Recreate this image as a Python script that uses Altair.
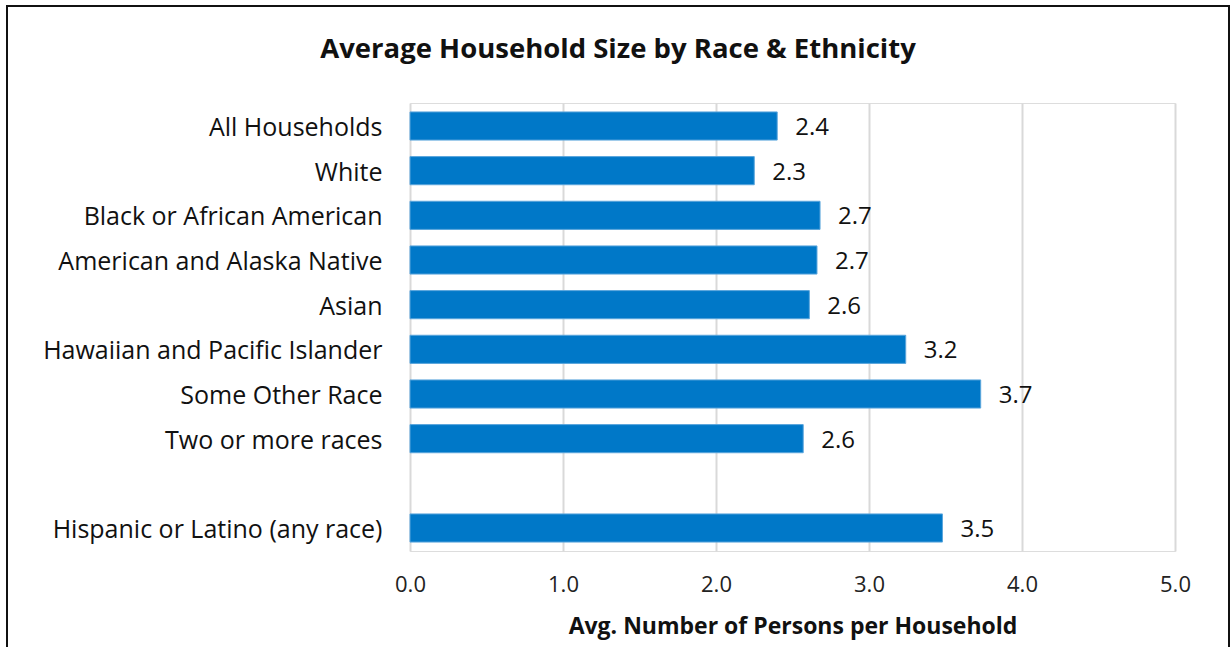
import altair as alt
import pandas as pd

categories = [
    "All Households",
    "White",
    "Black or African American",
    "American and Alaska Native",
    "Asian",
    "Hawaiian and Pacific Islander",
    "Some Other Race",
    "Two or more races",
    " ",
    "Hispanic or Latino (any race)",
]
values = [2.40, 2.25, 2.68, 2.66, 2.61, 3.24, 3.73, 2.57, None, 3.48]
x_ticks = [0, 1, 2, 3, 4, 5]
chart_title = ["Average Household Size by Race & Ethnicity"]

FONT = "Open Sans"
BLUE = "#0078C8"
INK = "#111111"

df = pd.DataFrame({"category": categories, "value": values})

base = alt.Chart(df).transform_filter("isValid(datum.value)")

y_enc = alt.Y(
    "category:N",
    sort=categories,
    scale=alt.Scale(domain=categories, paddingInner=0.37, paddingOuter=0.2),
    axis=alt.Axis(
        title=None,
        ticks=False,
        domain=False,
        grid=False,
        labelFontSize=25,
        labelFont=FONT,
        labelColor=INK,
        labelPadding=28,
        labelLimit=450,
        labelOffset=2,
    ),
)

x_enc = alt.X(
    "value:Q",
    scale=alt.Scale(domain=[0, 5], nice=False),
    axis=alt.Axis(
        values=x_ticks,
        format=".1f",
        title="Avg. Number of Persons per Household",
        titleFont=FONT,
        titleFontSize=23,
        titleFontWeight="bold",
        titleColor=INK,
        titlePadding=20,
        labelFont=FONT,
        labelFontSize=22,
        labelColor="#222222",
        labelPadding=23,
        labelFlush=False,
        ticks=False,
        domain=False,
        grid=True,
        gridColor="#d9d9d9",
        gridWidth=2,
    ),
)

bars = base.mark_bar(color=BLUE, stroke="#5aa5dc", strokeWidth=1).encode(x=x_enc, y=y_enc)

labels = base.mark_text(
    align="left", baseline="middle", dx=18, dy=2, fontSize=24, font=FONT, color=INK
).encode(
    x=alt.X("value:Q"),
    y=alt.Y("category:N", sort=categories),
    text=alt.Text("value:Q", format=".1f"),
)

title_mark = alt.Chart(pd.DataFrame({"t": chart_title})).mark_text(
    align="center", baseline="alphabetic", fontSize=27.5, fontWeight="bold", font=FONT, color=INK
).encode(
    text="t:N",
    x=alt.value(208),
    y=alt.value(-45),
)

border = alt.Chart(pd.DataFrame({"k": [0]})).mark_rect(
    fill=None, stroke=INK, strokeWidth=2
).encode(
    x=alt.value(-403),
    x2=alt.value(819),
    y=alt.value(-97),
    y2=alt.value(700),
)

chart = alt.layer(bars, labels, title_mark, border).properties(
    width=765,
    height=448,
    autosize=alt.AutoSizeParams(type="none"),
    padding={"left": 410, "top": 103, "right": 56, "bottom": 96},
).configure_view(stroke=None).configure(background="white")

chart.save("out.html", embed_options={"renderer": "svg", "actions": False})
